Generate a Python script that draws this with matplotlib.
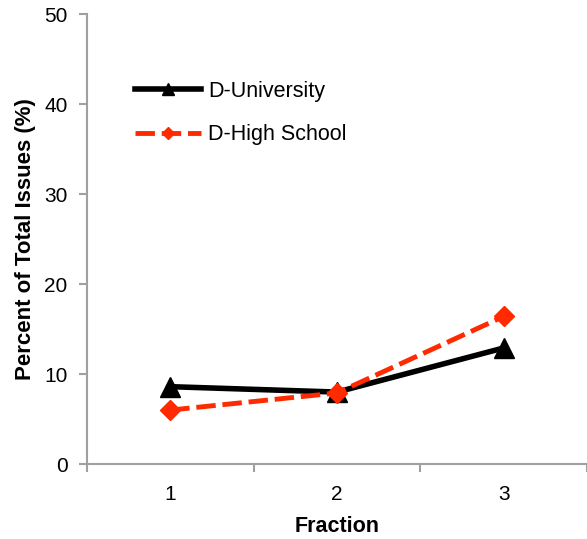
import matplotlib.pyplot as plt
import numpy as np

plt.rcParams['font.family'] = ['Liberation Sans', 'DejaVu Sans']

fractions = ['1', '2', '3']
university = [8.6, 8.0, 12.9]
high_school = [6.0, 7.9, 16.4]

fig = plt.figure(figsize=(5.87, 5.39), dpi=100)
ax = fig.add_axes([0.148, 0.139, 0.852, 0.835])

x = np.arange(1, len(fractions) + 1)
ax.plot(x, university, color='black', lw=4, marker='^', ms=14,
        label='D-University', zorder=3)
ax.plot(x, high_school, color='#ff2a00', lw=3.5, ls=(0, (4, 1.4)),
        marker='D', ms=10.5, label='D-High School', zorder=4)

ax.set_xlim(0.5, 3.5)
ax.set_ylim(0, 50)
ax.set_yticks(range(0, 51, 10))
# category ticks sit between the groups, labels in the middle
ax.set_xticks([0.5, 1.5, 2.5, 3.5])
ax.set_xticklabels([])
ax.set_xticks(x, minor=True)
ax.set_xticklabels(fractions, minor=True)
ax.tick_params(axis='x', which='minor', length=0, pad=15, labelsize=15)
ax.tick_params(axis='x', which='major', length=6, width=1.5, color='#a0a0a0')
ax.tick_params(axis='y', length=6, width=1.5, color='#a0a0a0', labelsize=15, pad=8)

for s in ['top', 'right']:
    ax.spines[s].set_visible(False)
for s in ['left', 'bottom']:
    ax.spines[s].set_color('#a0a0a0')
    ax.spines[s].set_linewidth(1.5)

ax.set_xlabel('Fraction', fontsize=15.5, fontweight='bold', labelpad=9)
ax.set_ylabel('Percent of Total Issues (%)', fontsize=16, fontweight='bold', labelpad=6)

ax.legend(loc='upper left', bbox_to_anchor=(0.057, 0.895), frameon=False,
          fontsize=15.5, handlelength=3.1, handletextpad=0.3, labelspacing=1.05,
          markerscale=0.6)

fig.savefig('out.png', dpi=100)
